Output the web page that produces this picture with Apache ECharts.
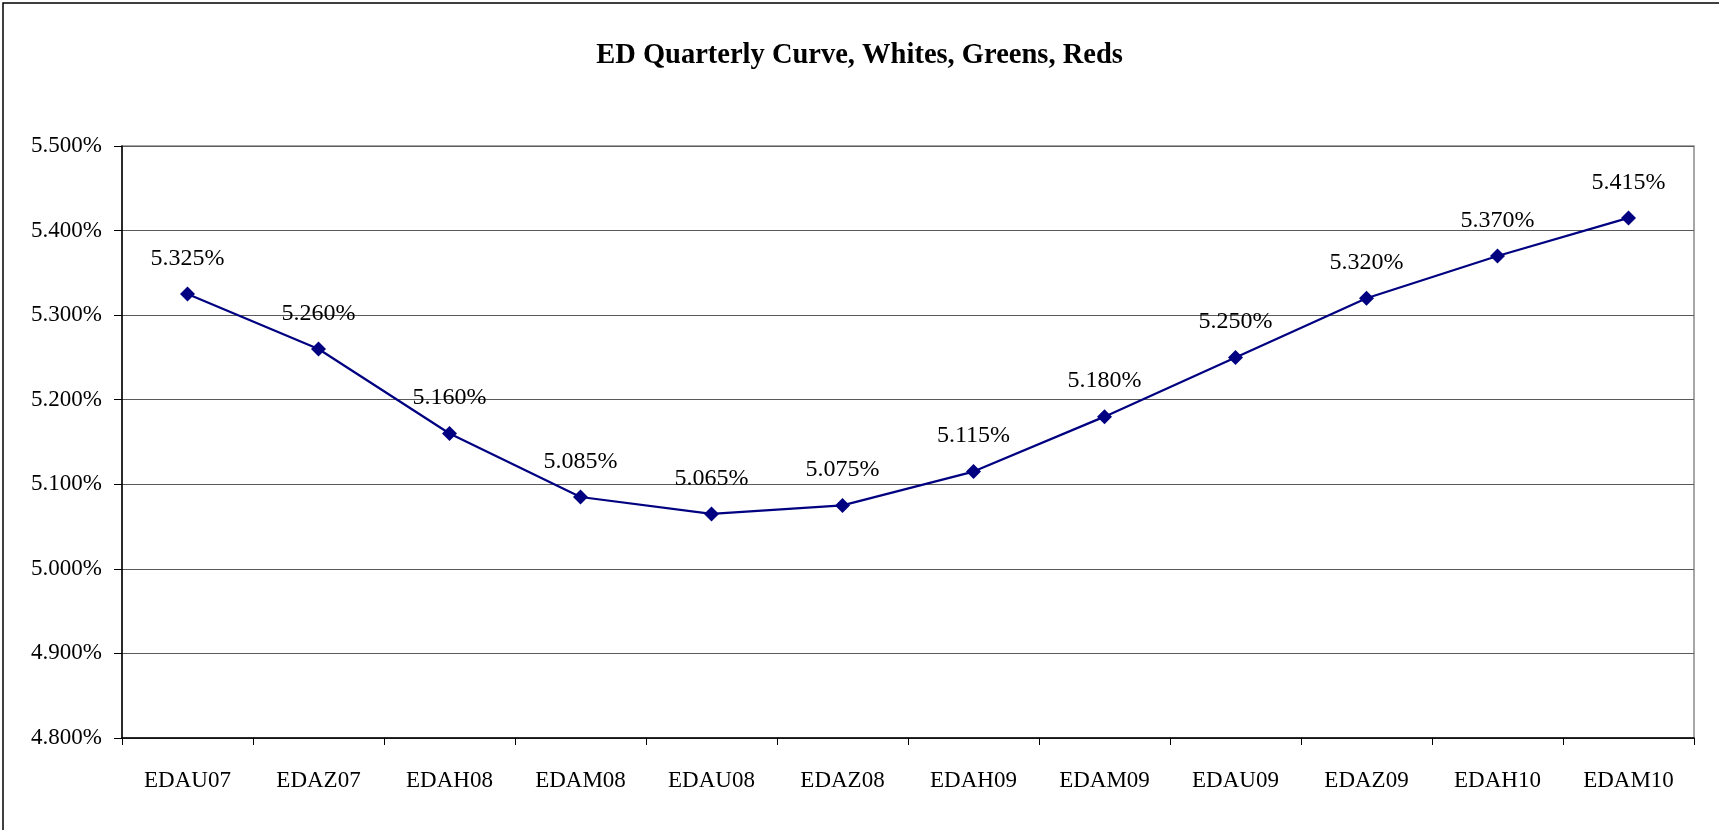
<!DOCTYPE html>
<html>
<head>
<meta charset="utf-8">
<script src="https://cdn.jsdelivr.net/npm/echarts@6/dist/echarts.min.js"></script>
<style>
html,body{margin:0;padding:0;background:#fff;}
#chart{width:1719px;height:830px;}
</style>
</head>
<body>
<div id="chart"></div>
<script>
const titleText = 'ED Quarterly Curve, Whites, Greens, Reds';
const categories = ['EDAU07','EDAZ07','EDAH08','EDAM08','EDAU08','EDAZ08','EDAH09','EDAM09','EDAU09','EDAZ09','EDAH10','EDAM10'];
const rates = [5.325, 5.260, 5.160, 5.085, 5.065, 5.075, 5.115, 5.180, 5.250, 5.320, 5.370, 5.415];
const yMin = 4.8, yMax = 5.5, yStep = 0.1;

const FONT = '"Liberation Serif", "DejaVu Serif", serif';
const chart = echarts.init(document.getElementById('chart'));
chart.setOption({
  backgroundColor: '#fff',
  animation: false,
  title: {
    text: titleText,
    left: 'center',
    top: 41,
    padding: 0,
    textStyle: { fontFamily: FONT, fontWeight: 'bold', fontSize: 28.5, color: '#000' }
  },
  graphic: [{
    type: 'rect',
    shape: { x: 3, y: 3, width: 1800, height: 900 },
    style: { fill: 'none', stroke: '#000', lineWidth: 1.5 },
    silent: true,
    z: -1
  }],
  grid: {
    left: 122, right: 25, top: 146, bottom: 92,
    show: true, borderColor: '#8a8a8a', borderWidth: 1.5, backgroundColor: 'transparent'
  },
  xAxis: {
    type: 'category',
    data: categories,
    boundaryGap: true,
    axisLine: { lineStyle: { color: '#000', width: 1.5 } },
    axisTick: { show: true, length: 7, lineStyle: { color: '#000', width: 1 } },
    axisLabel: { margin: 31, fontFamily: FONT, fontSize: 23, color: '#000' },
    splitLine: { show: false }
  },
  yAxis: {
    type: 'value',
    min: yMin, max: yMax, interval: yStep,
    axisLine: { show: true, lineStyle: { color: '#000', width: 1.5 } },
    axisTick: { show: true, length: 8, lineStyle: { color: '#000', width: 1 } },
    axisLabel: { margin: 20, fontFamily: FONT, fontSize: 23, color: '#000',
      formatter: v => v.toFixed(3) + '%' },
    splitLine: { show: true, lineStyle: { color: '#5a5a5a', width: 1.2 } }
  },
  series: [{
    type: 'line',
    data: rates,
    symbol: 'diamond',
    symbolSize: 15,
    lineStyle: { color: '#000080', width: 2.2 },
    itemStyle: { color: '#000080' },
    label: {
      show: true, position: 'top', distance: 16,
      fontFamily: FONT, fontSize: 24, color: '#000',
      formatter: p => p.value.toFixed(3) + '%'
    },
    z: 5
  }]
});
</script>
</body>
</html>
